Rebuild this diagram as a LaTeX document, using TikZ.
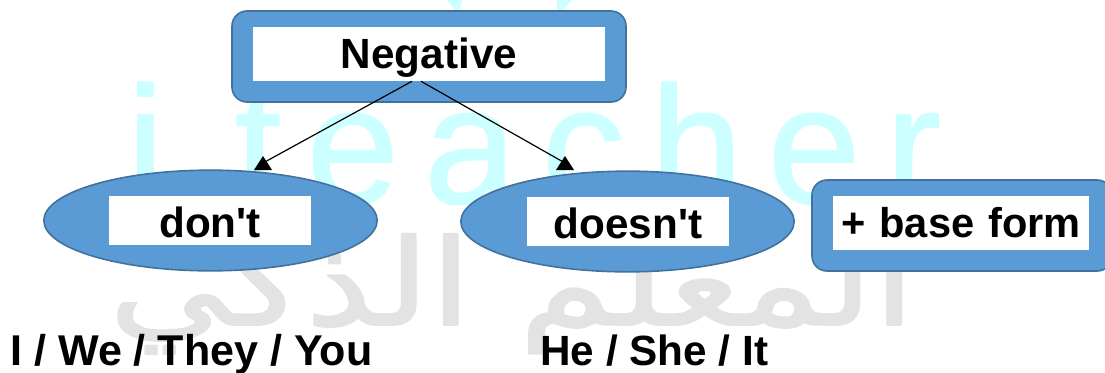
\documentclass[tikz,border=0pt]{standalone}
\usepackage{fontspec}
\setmainfont{Liberation Sans}
\newfontfamily\markfont[LetterSpace=15,FakeBold=1]{Liberation Sans}
\newfontfamily\arabicfont[Script=Arabic,FakeBold=1.5]{DejaVu Sans}
\TeXXeTstate=1
\usetikzlibrary{shapes.geometric}
\definecolor{boxblue}{HTML}{5B9BD5}
\definecolor{boxedge}{HTML}{41719C}
\definecolor{markcyan}{HTML}{CCFFFF}
\definecolor{markgrey}{HTML}{E3E3E3}
\tikzset{
  label/.style={fill=white,inner sep=0pt,font=\fontsize{31.7}{36}\selectfont\bfseries,text=black,text height=30.75pt},
  plain/.style={inner sep=0pt,font=\fontsize{32.3}{36}\selectfont\bfseries,text=black},
  panel/.style={draw=boxedge,line width=1.2pt,fill=boxblue,rounded corners=11.25pt},
  blob/.style={draw=boxedge,line width=1.2pt,fill=boxblue,ellipse,inner sep=0pt,minimum width=250pt,minimum height=75.5pt}
}
\begin{document}
\begin{tikzpicture}[x=0.75pt,y=-0.75pt,line join=round]
    \useasboundingbox (0,0) rectangle (1105,372);
    % watermark
    \fill[markcyan] (447,0) -- (462,0) -- (460,10) -- (455,10) -- cycle;
    \fill[markcyan] (557,0) -- (572,0) -- (563,10) -- (557,10) -- cycle;
    \node[text=markcyan,inner sep=0pt,anchor=base] (markeng) at (534,203) {\markfont\fontsize{125}{140}\selectfont i teacher};
    \node[text=markgrey,inner sep=0pt,xscale=1.25,anchor=base] (markara) at (512,325) {\arabicfont\fontsize{90}{100}\selectfont\beginR المعلم الذكي\endR};
    % boxes
    \draw[panel] (232,11) rectangle (626,102);
    \draw[panel] (812,180) rectangle (1112,271);
    \node[blob] (dontblob) at (210.5,220.5) {};
    \node[blob] (doesntblob) at (627.5,221.5) {};
    \node[label,text width=264pt,align=center,text depth=9.75pt] (negative) at (429,54) {Negative};
    \node[label,text width=151.5pt,align=center,text depth=6pt] (dont) at (210,220.5) {don\textquotesingle t};
    \node[label,text width=151.5pt,align=center,text depth=6pt] (doesnt) at (628,221.5) {doesn\textquotesingle t};
    \node[label,text width=192pt,align=center,text depth=9.75pt] (baseform) at (961,223) {\fontsize{31.2}{36}\selectfont + base form};
    % arrows
    \coordinate (dontend) at (263,163);
    \coordinate (doesntend) at (565,163);
    \draw[line width=0.9pt] ([xshift=-12.75pt]negative.south) -- (dontend);
    \draw[line width=0.9pt] ([xshift=-6pt]negative.south) -- (doesntend);
    \fill (dontend) ++(0,-7) -- ++(9,14) -- ++(-18,0) -- cycle;
    \fill (doesntend) ++(0,-7) -- ++(9,14) -- ++(-18,0) -- cycle;
    % pronouns
    \node[plain,anchor=base west] (plural) at (10,365) {I / We / They / You};
    \node[plain,anchor=base west] (single) at (540,365) {\fontsize{31.7}{36}\selectfont He / She / It};
\end{tikzpicture}
\end{document}
